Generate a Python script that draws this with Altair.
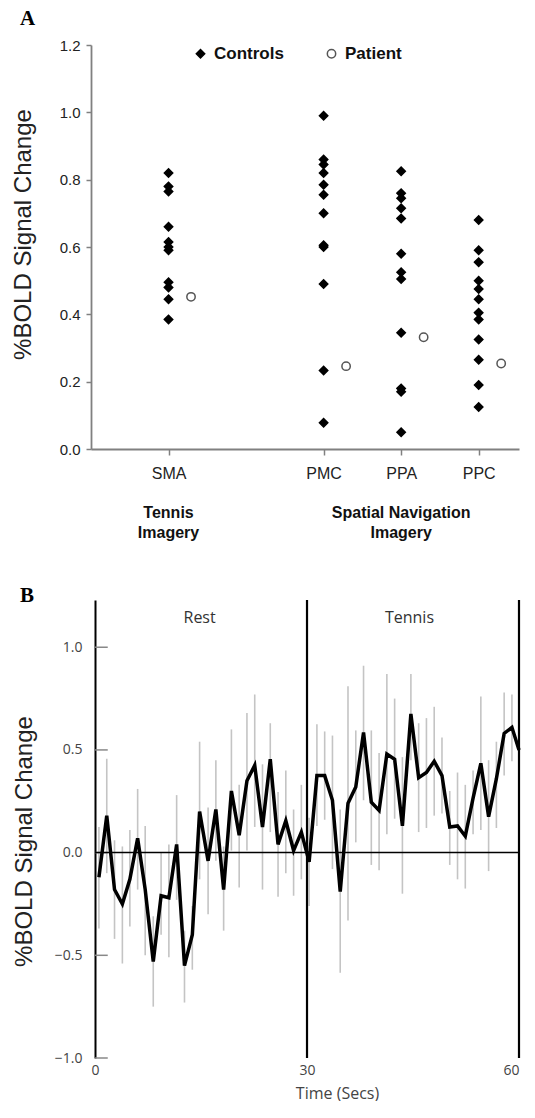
import altair as alt
import pandas as pd

# ---------------- Panel A data ----------------
regions = ["SMA", "PMC", "PPA", "PPC"]
region_pos = [1, 3, 4, 5]
sma_controls = [0.82, 0.78, 0.765, 0.66, 0.615, 0.60, 0.59, 0.495, 0.48, 0.445, 0.385]
pmc_controls = [0.99, 0.86, 0.845, 0.82, 0.785, 0.755, 0.70, 0.605, 0.60, 0.49, 0.233, 0.078]
ppa_controls = [0.825, 0.76, 0.745, 0.715, 0.685, 0.58, 0.525, 0.505, 0.345, 0.18, 0.17, 0.05]
ppc_controls = [0.68, 0.59, 0.555, 0.50, 0.475, 0.445, 0.405, 0.385, 0.325, 0.265, 0.19, 0.125]
patient_values = [0.452, 0.246, 0.332, 0.254]
patient_shift = 0.29
group_labels = ["Tennis\nImagery", "Spatial Navigation\nImagery"]
group_pos = [1, 4]
y_ticks_a = [0.0, 0.2, 0.4, 0.6, 0.8, 1.0, 1.2]
panel_labels = ["A", "B"]

# ---------------- Panel B data ----------------
times = [0.55, 1.66, 2.76, 3.87, 4.93, 6.03, 7.1, 8.24, 9.35, 10.45, 11.55, 12.66, 13.77,
         14.8, 16.0, 17.1, 18.2, 19.3, 20.4, 21.5, 22.6, 23.7, 24.8, 25.9, 27.0, 28.1, 29.2,
         30.3, 31.4, 32.5, 33.6, 34.7, 35.8, 36.9, 38.0, 39.1, 40.2, 41.3, 42.4, 43.5, 44.7,
         45.8, 46.9, 48.0, 49.1, 50.2, 51.3, 52.4, 53.5, 54.6, 55.7, 56.8, 57.9, 59.0, 60.0]
signal = [-0.12, 0.18, -0.18, -0.25, -0.13, 0.07, -0.18, -0.53, -0.21, -0.22, 0.04, -0.55, -0.40,
          0.20, -0.04, 0.21, -0.18, 0.30, 0.085, 0.35, 0.425, 0.125, 0.455, 0.04, 0.155, 0.01, 0.10,
          -0.045, 0.375, 0.375, 0.255, -0.19, 0.24, 0.32, 0.585, 0.245, 0.205, 0.48, 0.455, 0.13, 0.675,
          0.365, 0.39, 0.445, 0.375, 0.125, 0.13, 0.08, 0.265, 0.435, 0.175, 0.36, 0.58, 0.61, 0.50]
err_hi = [0.125, 0.457, 0.06, 0.03, 0.11, 0.31, 0.13, -0.31, 0.0, 0.04, 0.28, -0.38, -0.26,
          0.54, 0.22, 0.45, 0.03, 0.60, 0.33, 0.68, 0.77, 0.43, 0.63, 0.295, 0.40, 0.21, 0.33,
          0.17, 0.625, 0.59, 0.57, 0.21, 0.81, 0.595, 0.91, 0.595, 0.485, 0.87, 0.75, 0.465, 0.87,
          0.63, 0.655, 0.71, 0.56, 0.30, 0.39, 0.33, 0.40, 0.76, 0.45, 0.54, 0.78, 0.77, 0.65]
err_lo = [-0.37, -0.10, -0.42, -0.54, -0.36, -0.18, -0.50, -0.75, -0.40, -0.51, -0.23, -0.73, -0.57,
          -0.13, -0.30, -0.04, -0.38, 0.01, -0.17, 0.01, 0.125, -0.18, 0.10, -0.215, -0.10, -0.21, -0.13,
          -0.26, 0.13, 0.16, -0.08, -0.585, -0.33, 0.05, 0.255, -0.06, -0.086, 0.09, 0.165, -0.20, 0.45,
          0.10, 0.12, 0.18, 0.19, -0.06, -0.13, -0.175, 0.09, 0.11, -0.09, 0.12, 0.375, 0.445, 0.35]
block_edges = [30, 60]
block_names = ["Rest", "Tennis"]
block_label_x = [14.8, 44.5]
block_label_y = [1.14, 1.14]
y_ticks_b = [-1.0, -0.5, 0.0, 0.5, 1.0]
x_ticks_b = [0, 30, 60]

SANS = "Liberation Sans"
PANEL_W = 428

# ---------------- Panel A ----------------
rows = []
for name, pos, vals in zip(regions, region_pos, [sma_controls, pmc_controls, ppa_controls, ppc_controls]):
    for v in vals:
        rows.append({"region": name, "x": pos, "value": v, "group": "Controls"})
for name, pos, v in zip(regions, region_pos, patient_values):
    rows.append({"region": name, "x": pos + patient_shift, "value": v, "group": "Patient"})
dfA = pd.DataFrame(rows)

label_expr = " : ".join(f"datum.value == {p} ? '{n}'" for p, n in zip(region_pos, regions)) + " : ''"

legendA = alt.Legend(orient="none", legendX=101, legendY=0, direction="horizontal", title=None,
                     labelFont=SANS, labelFontSize=17, labelFontWeight="bold", labelColor="#111",
                     symbolSize=70, symbolStrokeWidth=1.5, labelOffset=5, columnPadding=39, padding=0)

xA = alt.X("x:Q", scale=alt.Scale(domain=[0, 5.52], nice=False, zero=False),
           axis=alt.Axis(values=region_pos, labelExpr=label_expr, title=None, grid=False,
                         domainColor="#808080", domainWidth=1.8, tickColor="#808080", tickWidth=1.5,
                         tickSize=6, labelFont=SANS, labelFontSize=16, labelColor="#222",
                         labelPadding=10, labelFlush=False))
yA = alt.Y("value:Q", scale=alt.Scale(domain=[0, 1.2], nice=False),
           axis=alt.Axis(values=y_ticks_a, format=".1f", grid=False, title="%BOLD Signal Change",
                         titleFont=SANS, titleFontSize=24, titleFontWeight="normal", titleColor="#222",
                         titleAngle=270, titleX=-61, titleY=189, titleBaseline="alphabetic",
                         titleAlign="center", domainColor="#808080", domainWidth=1.8,
                         tickColor="#808080", tickWidth=1.5, tickSize=5, labelPadding=6,
                         labelFont=SANS, labelFontSize=15, labelColor="#222"))

pointsA = alt.Chart(dfA).mark_point(filled=True, opacity=1, size=70, strokeWidth=1.5).encode(
    x=xA, y=yA,
    shape=alt.Shape("group:N", scale=alt.Scale(domain=["Controls", "Patient"], range=["diamond", "circle"]), legend=legendA),
    fill=alt.Fill("group:N", scale=alt.Scale(domain=["Controls", "Patient"], range=["black", "white"]), legend=legendA),
    stroke=alt.Stroke("group:N", scale=alt.Scale(domain=["Controls", "Patient"], range=["black", "#555555"]), legend=legendA),
)

dfG = pd.DataFrame({"x": group_pos, "label": group_labels})
groupsA = alt.Chart(dfG).mark_text(font=SANS, fontSize=16, fontWeight="bold", lineBreak="\n",
                                   baseline="alphabetic", dy=69, lineHeight=20, color="#111").encode(
    x="x:Q", y=alt.datum(0), text="label:N")

tagA = alt.Chart(pd.DataFrame({"tag": [panel_labels[0]]})).mark_text(
    font="Liberation Serif", fontSize=21, fontWeight="bold", color="black", align="left",
    baseline="alphabetic").encode(text="tag:N", x=alt.value(-71), y=alt.value(-20))

panelA = alt.layer(pointsA, groupsA, tagA).properties(width=PANEL_W, height=404)

# ---------------- Panel B ----------------
dfB = pd.DataFrame({"time": times, "signal": signal, "lo": err_lo, "hi": err_hi})

xB_scale = alt.Scale(domain=[-0.57, 60], nice=False, zero=False)
yB_scale = alt.Scale(domain=[-1.0, 1.23], nice=False, zero=False)

errB = alt.Chart(dfB).mark_rule(color="#c4c4c4", strokeWidth=1.6).encode(
    x=alt.X("time:Q", scale=xB_scale,
            axis=alt.Axis(values=x_ticks_b, format="d", domain=False, ticks=False, tickSize=0, grid=False,
                          labelFont="Open Sans", labelFontSize=14, labelColor="#444", labelPadding=5,
                          labelFlush=True, title="Time (Secs)", titleFont="Open Sans", titleFontSize=16,
                          titleFontWeight="normal", titleColor="#444", titleX=246, titleY=40,
                          titleBaseline="alphabetic")),
    y=alt.Y("lo:Q", scale=yB_scale,
            axis=alt.Axis(values=y_ticks_b, format=".1f", offset=-4, grid=False, domainColor="black",
                          domainWidth=2, ticks=False, tickSize=0, labelPadding=13, labelFont="Open Sans",
                          labelFontSize=14, labelColor="#444", title="%BOLD Signal Change",
                          titleFont=SANS, titleFontSize=24, titleFontWeight="normal", titleColor="#222",
                          titleAngle=270, titleX=-64, titleY=241, titleBaseline="alphabetic",
                          titleAlign="center")),
    y2="hi:Q")

dfTicks = pd.DataFrame({"tick": y_ticks_b})
ticksB = alt.Chart(dfTicks).mark_rule(color="#888", strokeWidth=1.5).encode(
    y=alt.Y("tick:Q", scale=yB_scale), x=alt.datum(0), x2=alt.datum(1.8))

zeroB = alt.Chart(pd.DataFrame({"z": [0.0]})).mark_rule(color="black", strokeWidth=1.5).encode(
    y=alt.Y("z:Q", scale=yB_scale), x=alt.datum(0), x2=alt.datum(block_edges[-1]))

edgesB = alt.Chart(pd.DataFrame({"edge": block_edges})).mark_rule(color="black", strokeWidth=2.2).encode(
    x=alt.X("edge:Q", scale=xB_scale))

lineB = alt.Chart(dfB).mark_line(color="black", strokeWidth=3.5).encode(
    x=alt.X("time:Q", scale=xB_scale), y=alt.Y("signal:Q", scale=yB_scale))

textB = alt.Chart(pd.DataFrame({"x": block_label_x, "y": block_label_y, "name": block_names})).mark_text(
    font="Open Sans", fontSize=16, color="#333", baseline="middle").encode(
    x=alt.X("x:Q", scale=xB_scale), y=alt.Y("y:Q", scale=yB_scale), text="name:N")

tagB = alt.Chart(pd.DataFrame({"tag": [panel_labels[1]]})).mark_text(
    font="Liberation Serif", fontSize=21, fontWeight="bold", color="black", align="left",
    baseline="alphabetic").encode(text="tag:N", x=alt.value(-71), y=alt.value(2))

panelB = alt.layer(errB, ticksB, zeroB, edgesB, lineB, textB, tagB).properties(width=PANEL_W, height=458)

chart = alt.vconcat(panelA, panelB, spacing=44).properties(
    padding={"left": 3, "top": 0, "right": 0, "bottom": 0}).configure_view(stroke=None)

chart.save("out.html", embed_options={"renderer": "svg", "actions": False})
